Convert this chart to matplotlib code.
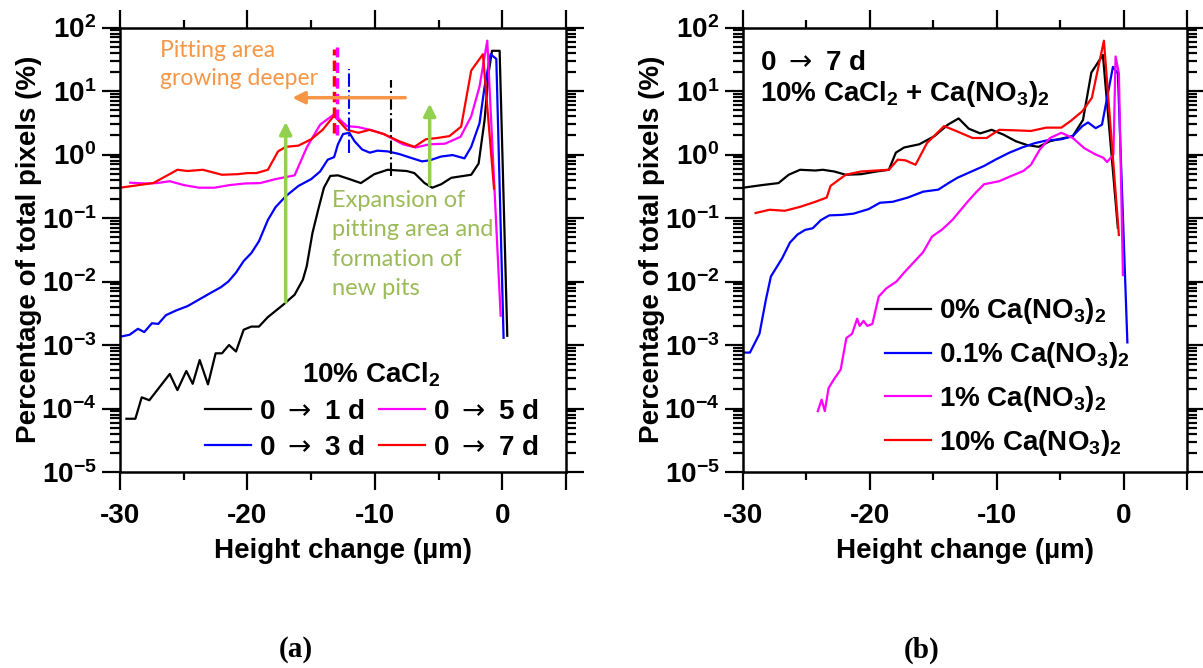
import numpy as np
import matplotlib
matplotlib.use('Agg')
import matplotlib.pyplot as plt
from matplotlib.ticker import FixedLocator, FixedFormatter, LogLocator, NullFormatter

plt.rcParams['font.family'] = ['Liberation Sans', 'DejaVu Sans']
plt.rcParams['font.weight'] = 'bold'
plt.rcParams['axes.labelweight'] = 'bold'
plt.rcParams['mathtext.default'] = 'regular'
plt.rcParams['mathtext.fontset'] = 'custom'
plt.rcParams['mathtext.rm'] = 'DejaVu Sans:weight=normal'
plt.rcParams['axes.linewidth'] = 1.8

# ---- (a) 10% CaCl2 : height change (um) vs percentage of total pixels (%)
a1_x = [-29.5, -28.8, -28.3, -27.7, -26.1, -25.5, -24.8, -24.3, -23.75, -23.1, -22.5, -22.0,
        -21.45, -20.9, -20.3, -19.7, -19.1, -18.4, -17.2, -16.3, -15.65, -15.35, -14.9, -14.45,
        -14.0, -13.5, -12.9, -12.0, -11.1, -10.05, -9.0, -7.5, -6.9, -6.1, -5.5, -4.8, -4.0,
        -2.44, -1.86, -1.39, -1.08, -0.81, -0.21, 0.39]
a1_y = [6.9e-5, 6.9e-5, 1.5e-4, 1.35e-4, 3.5e-4, 1.95e-4, 3.9e-4, 2.45e-4, 5.8e-4, 2.4e-4,
        7.4e-4, 7.4e-4, 1.0e-3, 7.9e-4, 1.74e-3, 1.95e-3, 1.95e-3, 2.75e-3, 4.3e-3, 6.2e-3,
        1.07e-2, 1.74e-2, 5.8e-2, 0.135, 0.30, 0.46, 0.47, 0.41, 0.355, 0.49, 0.575, 0.55,
        0.51, 0.355, 0.30, 0.34, 0.43, 0.48, 0.72, 3.5, 19, 43, 43, 1.4e-3]

a3_x = [-30, -29.25, -28.6, -28.1, -27.5, -27.0, -26.4, -25.6, -24.7, -23.8, -22.9, -22.1,
        -21.5, -20.9, -20.3, -19.7, -19.1, -18.4, -17.8, -17.0, -16.0, -15.0, -14.3, -13.7,
        -13.2, -12.9, -12.5, -12.0, -11.6, -11.0, -10.4, -9.8, -9.0, -8.1, -7.2, -6.3, -5.7,
        -4.8, -3.9, -2.97, -2.44, -1.79, -1.39, -0.92, -0.47, 0.1]
a3_y = [1.35e-3, 1.45e-3, 1.8e-3, 1.6e-3, 2.2e-3, 2.15e-3, 2.95e-3, 3.5e-3, 4.1e-3, 5.2e-3,
        6.6e-3, 8.1e-3, 1.0e-2, 1.38e-2, 2.1e-2, 2.8e-2, 4.3e-2, 9.3e-2, 0.148, 0.22, 0.32,
        0.41, 0.54, 0.83, 0.91, 1.45, 2.1, 2.2, 1.62, 1.2, 1.07, 1.15, 1.12, 1.02, 0.89, 0.78,
        0.81, 0.93, 0.98, 0.87, 1.32, 3.1, 11.7, 38, 32, 1.3e-3]

a5_x = [-29.2, -28.0, -27.1, -26.1, -25.0, -23.8, -22.6, -21.4, -20.2, -19.0, -17.8, -16.3,
        -15.35, -14.3, -13.2, -12.2, -11.3, -10.4, -9.3, -7.8, -6.8, -5.7, -4.5, -3.28, -2.44,
        -1.79, -1.18, -0.13]
a5_y = [0.36, 0.35, 0.355, 0.38, 0.33, 0.30, 0.30, 0.33, 0.35, 0.355, 0.41, 0.47, 1.29, 2.95,
        4.3, 2.8, 2.7, 2.45, 2.1, 1.45, 1.29, 1.45, 1.48, 1.9, 4.0, 11.7, 62, 2.9e-3]

a7_x = [-30, -27.4, -26.2, -25.5, -24.7, -23.5, -22.0, -20.8, -20.0, -19.3, -18.4, -17.6,
        -17.0, -16.0, -15.0, -14.1, -13.2, -12.2, -11.3, -10.4, -9.3, -8.1, -6.9, -6.0, -5.1,
        -4.15, -3.23, -2.44, -1.52, -0.65]
a7_y = [0.30, 0.355, 0.48, 0.575, 0.55, 0.575, 0.48, 0.49, 0.51, 0.51, 0.575, 1.12, 1.32,
        1.38, 1.74, 2.45, 4.1, 2.45, 2.2, 2.45, 2.1, 1.62, 1.32, 1.74, 1.82, 1.95, 2.75, 21,
        38, 0.29]

# peak positions marked in (a)
peak_x = [-13.2, -13.0, -12.0, -8.75]
peak_lo = [2.2, 2.0, 1.07, 0.46]
peak_hi = [45.7, 50, 21.9, 14.8]

# ---- (b) 0 -> 7 d, 10% CaCl2 + Ca(NO3)2
b0_x = [-30, -28.5, -27.2, -26.4, -25.5, -24.3, -23.7, -22.8, -21.9, -20.7, -19.5, -18.5,
        -17.95, -17.3, -16.1, -14.9, -13.85, -13.0, -12.2, -11.3, -10.4, -9.45, -8.5, -7.6,
        -6.7, -5.8, -4.9, -4.0, -3.2, -2.54, -1.63, -0.45]
b0_y = [0.30, 0.33, 0.355, 0.48, 0.575, 0.56, 0.575, 0.54, 0.48, 0.49, 0.54, 0.575, 1.07,
        1.29, 1.45, 1.95, 2.95, 3.7, 2.55, 2.15, 2.45, 2.05, 1.62, 1.41, 1.32, 1.62, 1.78,
        1.95, 3.5, 19.5, 37, 0.07]

b01_x = [-29.9, -29.45, -28.7, -28.2, -27.8, -27.3, -26.9, -26.3, -25.7, -25.1, -24.5,
         -23.85, -23.2, -22.2, -21.3, -20.1, -19.2, -18.2, -17.0, -15.8, -14.6, -13.85, -13.1,
         -11.9, -11.0, -10.1, -9.0, -8.0, -7.0, -6.1, -4.9, -4.0, -3.25, -2.8, -2.2, -1.7,
         -0.84, -0.45, 0.3]
b01_y = [7.6e-4, 7.6e-4, 1.5e-3, 5.1e-3, 1.2e-2, 1.74e-2, 2.35e-2, 4.1e-2, 5.5e-2, 6.5e-2,
         6.9e-2, 9.3e-2, 0.11, 0.112, 0.117, 0.138, 0.174, 0.18, 0.21, 0.26, 0.28, 0.35, 0.43,
         0.55, 0.66, 0.83, 1.07, 1.29, 1.51, 1.66, 1.74, 1.95, 2.8, 3.2, 2.6, 2.95, 24, 19,
         1.1e-3]

b1_x = [-24.1, -23.8, -23.55, -23.25, -22.8, -22.3, -21.85, -21.4, -21.0, -20.8, -20.5,
        -20.2, -19.8, -19.3, -18.7, -17.9, -17.3, -16.6, -15.8, -15.1, -14.3, -13.5, -12.3,
        -11.7, -11.0, -9.8, -8.85, -7.9, -7.3, -6.6, -5.8, -4.9, -4.0, -3.1, -2.2, -1.6, -1.3,
        -0.8, -0.63, -0.37, -0.05]
b1_y = [9.1e-5, 1.38e-4, 9.1e-5, 2.1e-4, 2.95e-4, 4.1e-4, 1.29e-3, 1.5e-3, 2.6e-3, 2.0e-3,
        2.4e-3, 2.0e-3, 2.15e-3, 5.8e-3, 7.8e-3, 1.0e-2, 1.38e-2, 1.95e-2, 2.9e-2, 5.1e-2,
        6.6e-2, 9.3e-2, 0.18, 0.245, 0.34, 0.38, 0.46, 0.55, 0.69, 1.2, 1.82, 2.2, 1.82, 1.26,
        1.0, 0.89, 0.76, 1.0, 35, 19, 1.26e-2]

b10_x = [-29.0, -27.9, -26.7, -25.5, -24.3, -23.4, -23.1, -22.6, -21.9, -20.7, -19.5, -18.5,
         -17.8, -17.2, -16.4, -15.5, -14.15, -13.2, -11.9, -10.8, -9.8, -8.5, -7.3, -6.1,
         -4.9, -4.15, -3.25, -2.5, -1.55, -0.37]
b10_y = [0.12, 0.135, 0.13, 0.15, 0.18, 0.21, 0.32, 0.38, 0.48, 0.54, 0.56, 0.575, 0.83,
         0.81, 0.69, 1.51, 2.8, 2.35, 1.82, 1.82, 2.45, 2.4, 2.35, 2.65, 2.65, 3.4, 4.8, 7.8,
         62, 0.054]

arrow = r'$\mathrm{\rightarrow}$'
labels_a = [f'0 {arrow} 1 d', f'0 {arrow} 3 d', f'0 {arrow} 5 d', f'0 {arrow} 7 d']
labels_b = ['0% Ca(NO$_3$)$_2$', '0.1% Ca(NO$_3$)$_2$', '1% Ca(NO$_3$)$_2$',
            '10% Ca(NO$_3$)$_2$']
colors = ['black', '#0000FF', '#FF00FF', '#FF0000']


def style_axes(ax):
    ax.set_yscale('log')
    ax.set_xlim(-30, 5)
    ax.set_ylim(1e-5, 1e2)
    ax.xaxis.set_major_locator(FixedLocator([-30, -20, -10, 0, 5]))
    ax.xaxis.set_major_formatter(FixedFormatter(['-30', '-20', '-10', '0', '']))
    ax.xaxis.set_minor_locator(FixedLocator([-25, -15, -5]))
    ax.yaxis.set_major_locator(LogLocator(base=10, numticks=10))
    ax.yaxis.set_minor_locator(LogLocator(base=10, subs=np.arange(2, 10), numticks=10))
    ax.yaxis.set_minor_formatter(NullFormatter())
    ax.tick_params(which='both', direction='out', top=True, right=True, width=1.6)
    ax.tick_params(which='major', length=13, labelsize=20)
    ax.tick_params(axis='x', which='major', pad=9)
    ax.tick_params(axis='y', which='major', pad=4)
    ax.tick_params(which='minor', length=6)
    ax.tick_params(axis='y', which='minor', length=7)
    ax.set_xlabel('Height change (µm)', fontsize=20)
    ax.set_ylabel('Percentage of total pixels (%)', fontsize=20)
    ax.xaxis.set_label_coords(0.5, -0.148)
    ax.yaxis.set_label_coords(-0.175, 0.5)


fig = plt.figure(figsize=(12.03, 6.68), dpi=100)
ax1 = fig.add_axes([0.0998, 0.2934, 0.3707, 0.6654])
ax2 = fig.add_axes([0.6176, 0.2934, 0.3691, 0.6654])

# ---- panel (a)
for xs, ys, c, lab in zip([a1_x, a3_x, a5_x, a7_x], [a1_y, a3_y, a5_y, a7_y], colors, labels_a):
    ax1.plot(xs, ys, color=c, lw=1.6, label=lab)

ax1.plot([peak_x[0]] * 2, [peak_lo[0], peak_hi[0]], color='#FF0000', lw=2.5, ls=(0, (3, 1.5)))
ax1.plot([peak_x[1]] * 2, [peak_lo[1], peak_hi[1]], color='#FF00FF', lw=2.5, ls=(0, (3, 1.5)))
ax1.plot([peak_x[2]] * 2, [peak_lo[2], peak_hi[2]], color='#0000FF', lw=1.5, ls='-.')
ax1.plot([peak_x[3]] * 2, [peak_lo[3], peak_hi[3]], color='black', lw=1.5, ls='-.')

orange = '#F79646'
green = '#92D050'
ax1.annotate('', xy=(-16.7, 7.85), xytext=(-7.4, 7.85),
             arrowprops=dict(arrowstyle='-|>', color=orange, lw=2.5, mutation_scale=18))
ax1.text(-26.9, 26, 'Pitting area\ngrowing deeper', color=orange, fontsize=16.5,
         fontweight='normal', family='Lato', va='center', linespacing=1.45)
ax1.annotate('', xy=(-17.0, 3.6), xytext=(-17.0, 4.3e-3),
             arrowprops=dict(arrowstyle='-|>', color=green, lw=2.5, mutation_scale=18))
ax1.annotate('', xy=(-5.7, 7.0), xytext=(-5.7, 0.30),
             arrowprops=dict(arrowstyle='-|>', color=green, lw=2.5, mutation_scale=18))
ax1.text(-13.35, 0.28, 'Expansion of\npitting area and\nformation of\nnew pits',
         color='#9BBB59', fontsize=17, fontweight='normal', family='Lato', va='top',
         linespacing=1.5)

style_axes(ax1)
leg1 = ax1.legend(ncol=2, loc='upper left', bbox_to_anchor=(0.19, 0.25), frameon=False,
                  fontsize=20, title='10% CaCl$_2$', title_fontsize=20, handlelength=1.65,
                  handletextpad=0.3, columnspacing=0.5, labelspacing=0.35, borderpad=0,
                  borderaxespad=0)
leg1.get_title().set_fontweight('bold')

# ---- panel (b)
for xs, ys, c, lab in zip([b0_x, b01_x, b1_x, b10_x], [b0_y, b01_y, b1_y, b10_y], colors, labels_b):
    ax2.plot(xs, ys, color=c, lw=1.6, label=lab)

ax2.text(0.038, 0.95, f'0 {arrow} 7 d\n10% CaCl$_2$ + Ca(NO$_3$)$_2$', transform=ax2.transAxes,
         fontsize=20, va='top', ha='left', linespacing=1.15)

style_axes(ax2)
ax2.legend(loc='upper left', bbox_to_anchor=(0.32, 0.395), frameon=False, fontsize=20,
           handlelength=1.65, handletextpad=0.3, labelspacing=0.5, borderpad=0,
           borderaxespad=0)

fig.text(0.246, 0.027, '(a)', family='Liberation Serif', fontsize=21, ha='center', va='center')
fig.text(0.766, 0.027, '(b)', family='Liberation Serif', fontsize=21, ha='center', va='center')

fig.savefig('out.png', dpi=100)
